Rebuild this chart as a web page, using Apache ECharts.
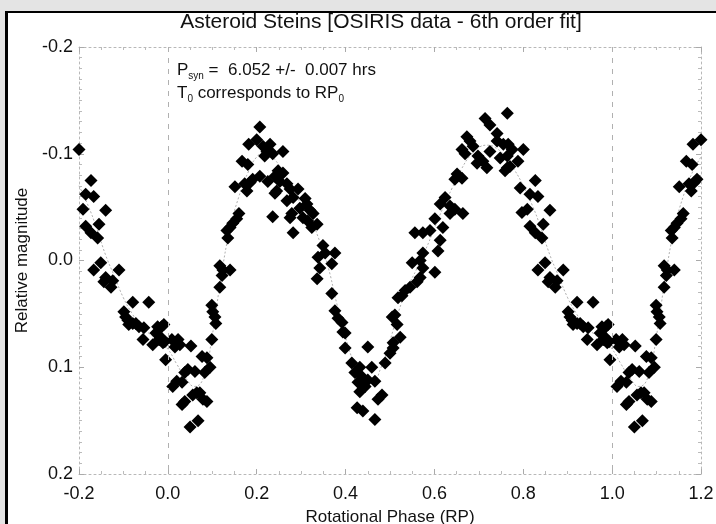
<!DOCTYPE html>
<html>
<head>
<meta charset="utf-8">
<script src="https://cdn.jsdelivr.net/npm/echarts@6/dist/echarts.min.js"></script>
<style>
html,body{margin:0;padding:0;background:#fff;}
#chart{width:716px;height:524px;}
</style>
</head>
<body>
<div id="chart"></div>
<script>
// Observed points, phase in [0,1) (the plot repeats them with a period of 1)
const obsPhase = [
0.207,0.182,0.200,0.214,0.223,0.230,0.218,0.236,0.167,0.180,0.207,0.191,0.185,0.173,0.151,0.178,0.225,0.241,0.241,0.236,
0.160,0.155,0.146,0.140,0.133,0.135,0.117,0.124,0.140,0.122,0.117,0.099,0.101,0.106,0.108,0.099,
0.009,0.023,0.027,0.016,0.052,0.077,0.088,0.095,0.083,0.061,0.045,0.038,0.020,0.011,0.032,0.065,0.072,0.056,0.079,0.088,0.038,0.032,0.068,0.050,
0.259,0.248,0.259,0.252,0.268,0.245,0.275,0.293,0.268,0.282,0.309,0.313,0.297,0.279,0.275,0.320,0.327,0.304,0.315,0.336,0.324,0.282,
0.349,0.354,0.376,0.338,0.369,0.342,0.336,0.369,0.376,0.383,0.392,0.394,0.399,0.399,0.450,
0.414,0.432,0.459,0.421,0.437,0.450,0.466,0.428,0.444,0.432,0.489,0.500,0.507,0.505,0.482,0.473,0.426,0.439,0.466,
0.714,0.725,0.741,0.764,0.673,0.680,0.687,0.662,0.669,0.698,0.709,0.718,0.696,0.725,0.741,0.755,0.748,0.764,
0.651,0.662,0.646,0.624,0.613,0.635,0.646,0.635,0.664,0.601,0.619,0.590,0.574,0.556,0.613,0.608,0.574,0.568,0.550,0.574,0.601,0.568,0.561,0.545,0.534,0.527,0.518,0.511,0.516,0.523,0.507,
0.766,0.775,0.800,0.764,0.788,0.770,0.759,0.827,0.793,0.815,0.833,0.860,0.809,0.797,0.845,0.815,0.827,0.842,
0.849,0.833,0.860,0.876,0.890,0.872,0.856,0.921,0.957,0.901,0.910,0.921,0.935,0.946,0.977,0.991,0.944,0.966,0.984,
0.973,0.980,0.989,0.995,0.905,0.928,0.912,0.986,0.982,0.993
];
const obsMag = [
-0.125,-0.109,-0.113,-0.107,-0.102,-0.109,-0.098,-0.100,-0.093,-0.090,-0.079,-0.076,-0.073,-0.072,-0.069,-0.065,-0.074,-0.079,-0.063,-0.041,
-0.044,-0.039,-0.035,-0.031,-0.028,-0.021,0.005,0.009,0.009,0.014,0.025,0.042,0.048,0.053,0.059,0.074,
0.074,0.074,0.079,0.081,0.080,0.090,0.091,0.100,0.105,0.104,0.102,0.105,0.113,0.118,0.114,0.124,0.124,0.126,0.130,0.132,0.132,0.135,0.150,0.156,
-0.102,-0.084,-0.082,-0.074,-0.072,-0.065,-0.067,-0.067,-0.056,-0.059,-0.058,-0.053,-0.049,-0.044,-0.040,-0.047,-0.044,-0.040,-0.037,-0.034,-0.031,-0.026,
-0.014,-0.007,-0.007,-0.003,0.003,0.007,0.017,0.031,0.047,0.054,0.058,0.067,0.068,0.082,0.081,
0.096,0.100,0.100,0.105,0.109,0.112,0.113,0.114,0.118,0.123,0.096,0.087,0.077,0.053,0.126,0.130,0.138,0.141,0.149,
-0.133,-0.127,-0.119,-0.138,-0.116,-0.112,-0.107,-0.104,-0.100,-0.098,-0.093,-0.087,-0.091,-0.102,-0.112,-0.109,-0.096,-0.087,
-0.081,-0.077,-0.076,-0.059,-0.053,-0.051,-0.048,-0.044,-0.044,-0.039,-0.031,-0.028,-0.026,-0.026,-0.019,-0.009,-0.007,0.000,0.002,0.007,0.011,0.016,0.020,0.025,0.028,0.033,0.035,0.051,0.060,0.072,0.082,
-0.109,-0.104,-0.104,-0.098,-0.093,-0.088,-0.084,-0.075,-0.068,-0.062,-0.060,-0.047,-0.048,-0.045,-0.034,-0.032,-0.026,-0.021,
0.002,0.009,0.016,0.019,0.009,0.025,0.020,0.039,0.039,0.048,0.056,0.059,0.062,0.063,0.062,0.060,0.074,0.079,0.072,
0.068,0.074,0.077,0.093,0.053,0.059,0.060,0.062,0.074,0.076
];
// 6th order fit curve, read at these phases
const fitPhase = [0.00,0.02,0.04,0.06,0.08,0.10,0.12,0.14,0.16,0.18,0.20,0.22,0.24,0.26,0.28,0.30,0.32,0.34,0.36,0.38,0.40,0.42,0.44,0.46,0.48,
0.50,0.52,0.54,0.56,0.58,0.60,0.62,0.64,0.66,0.68,0.70,0.72,0.74,0.76,0.78,0.80,0.82,0.84,0.86,0.88,0.90,0.92,0.94,0.96,0.98];
const fitMag = [0.083,0.097,0.110,0.118,0.110,0.070,0.015,-0.030,-0.060,-0.082,-0.097,-0.102,-0.095,-0.082,-0.066,-0.053,-0.040,-0.020,0.005,0.040,0.072,0.097,0.112,0.113,0.100,
0.075,0.047,0.025,0.008,-0.010,-0.030,-0.050,-0.068,-0.085,-0.098,-0.106,-0.108,-0.105,-0.097,-0.085,-0.070,-0.052,-0.030,-0.005,0.015,0.035,0.050,0.062,0.069,0.075];
const xTicks = ['-0.2','0.0','0.2','0.4','0.6','0.8','1.0','1.2'];
const yTicks = ['-0.2','-0.1','0.0','0.1','0.2'];

function wrap(ph, mg) {
  const out = [];
  for (let i = 0; i < ph.length; i++) {
    for (const s of [-1, 0, 1]) {
      const p = ph[i] + s;
      if (p >= -0.2 && p <= 1.2) out.push([p, mg[i]]);
    }
  }
  return out;
}
const pts = wrap(obsPhase, obsMag);
const fit = wrap(fitPhase, fitMag).sort((a, b) => a[0] - b[0]);

const FONT = "'Liberation Sans', Arial, Helvetica, sans-serif";
const axisLineStyle = {color: '#b8b8b8', width: 1, type: [2, 3]};
function xAx(pos, show) {
  return {
    type: 'value', position: pos, min: -0.2, max: 1.2, interval: 0.2,
    axisLine: {show: true, onZero: false, lineStyle: axisLineStyle},
    axisTick: {show: true, inside: true, length: 5, lineStyle: {color: '#aaa'}},
    minorTick: {show: true, splitNumber: 4, length: 3, lineStyle: {color: '#bbb'}},
    splitLine: {show: false},
    axisLabel: {show: show, margin: 11, color: '#111', fontSize: 18, fontFamily: FONT,
      formatter: v => xTicks[Math.round((v + 0.2) / 0.2)] || ''},
    name: show ? 'Rotational Phase (RP)' : '', nameLocation: 'middle', nameGap: 35,
    nameTextStyle: {color: '#111', fontSize: 17, fontFamily: FONT}
  };
}
function yAx(pos, show) {
  return {
    type: 'value', position: pos, min: -0.2, max: 0.2, interval: 0.1, inverse: true,
    axisLine: {show: true, onZero: false, lineStyle: axisLineStyle},
    axisTick: {show: true, inside: true, length: 5, lineStyle: {color: '#aaa'}},
    minorTick: {show: true, splitNumber: 10, length: 3, lineStyle: {color: '#bbb'}},
    splitLine: {show: false},
    axisLabel: {show: show, margin: 6, color: '#111', fontSize: 18, fontFamily: FONT,
      formatter: v => yTicks[Math.round((v + 0.2) / 0.1)] || ''},
    name: show ? 'Relative magnitude' : '', nameLocation: 'middle', nameGap: 48,
    nameTextStyle: {color: '#111', fontSize: 17, fontFamily: FONT}
  };
}

const chart = echarts.init(document.getElementById('chart'), null, {renderer: 'canvas'});
chart.setOption({
  backgroundColor: '#fff',
  animation: false,
  title: {
    text: 'Asteroid Steins [OSIRIS data - 6th order fit]',
    left: 376, top: 7, textAlign: 'center', z: 120,
    textStyle: {color: '#111', fontSize: 21, fontWeight: 'normal', fontFamily: FONT}
  },
  grid: {left: 79, right: 15, top: 47, bottom: 50, containLabel: false, outerBoundsMode: 'none'},
  xAxis: [xAx('bottom', true), xAx('top', false)],
  yAxis: [yAx('left', true), yAx('right', false)],
  graphic: [
    {type: 'rect', shape: {x: 0, y: 0, width: 716, height: 11}, style: {fill: '#e4e4e4'}, z: 100},
    {type: 'rect', shape: {x: 0, y: 0, width: 5, height: 524}, style: {fill: '#e4e4e4'}, z: 100},
    {type: 'line', shape: {x1: 5, y1: 12, x2: 716, y2: 12}, style: {stroke: '#000', lineWidth: 2}, z: 101},
    {type: 'line', shape: {x1: 6.5, y1: 11, x2: 6.5, y2: 524}, style: {stroke: '#000', lineWidth: 3}, z: 101},
    {type: 'text', left: 177, top: 62, z: 50,
      style: {text: '{a|P}{s|syn}{a| =  6.052 +/-  0.007 hrs}', fill: '#111', font: '17px ' + FONT,
        rich: {a: {fontSize: 17, lineHeight: 22, verticalAlign: 'middle', fontFamily: FONT},
               s: {fontSize: 10, lineHeight: 10, verticalAlign: 'bottom', fontFamily: FONT}}}},
    {type: 'text', left: 177, top: 85, z: 50,
      style: {text: '{a|T}{s|0}{a| corresponds to RP}{s|0}', fill: '#111', font: '17px ' + FONT,
        rich: {a: {fontSize: 17, lineHeight: 22, verticalAlign: 'middle', fontFamily: FONT},
               s: {fontSize: 10, lineHeight: 10, verticalAlign: 'bottom', fontFamily: FONT}}}}
  ],
  series: [
    {
      type: 'line', data: fit, showSymbol: false, smooth: true, silent: true,
      lineStyle: {color: '#b0b0b0', width: 1, type: [2, 2]},
      markLine: {
        silent: true, symbol: 'none', label: {show: false},
        lineStyle: {color: '#b0b0b0', width: 1, type: [5, 6]},
        data: [{xAxis: 0}, {xAxis: 1}]
      },
      z: 1
    },
    {
      type: 'scatter', data: pts, symbol: 'diamond', symbolSize: 13,
      itemStyle: {color: '#000', opacity: 1}, clip: true, z: 3
    }
  ]
});
</script>
</body>
</html>
